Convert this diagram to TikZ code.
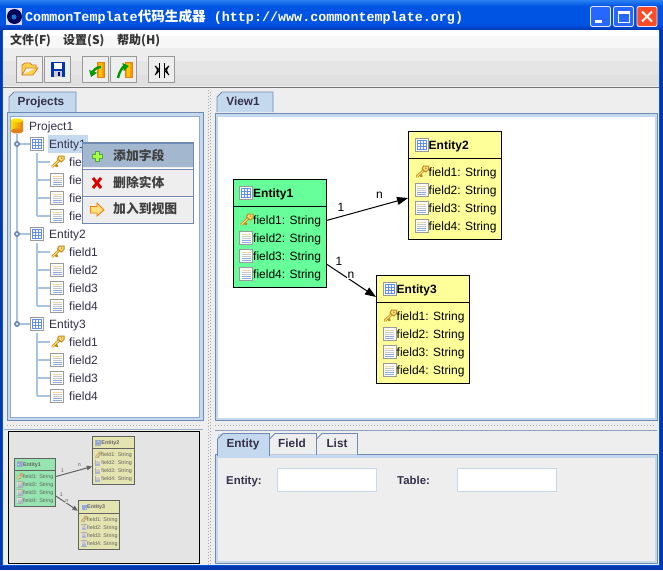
\documentclass[tikz,border=0pt]{standalone}
\usepackage{fontspec}
\setmainfont{Liberation Sans}
\newfontfamily\cjk{Noto Sans CJK SC}
\newfontfamily\titlemono{Liberation Mono}
\usetikzlibrary{arrows.meta}
\definecolor{xpblue}{HTML}{0054E3}
\definecolor{xpdark}{HTML}{0038B0}
\definecolor{xplight}{HTML}{2A80F0}
\definecolor{panelbg}{HTML}{EEEEEE}
\definecolor{bluebd}{HTML}{6F8AB3}
\definecolor{blueband}{HTML}{C5D9EE}
\definecolor{treeline}{HTML}{A8C4E0}
\definecolor{textdk}{HTML}{33304A}
\definecolor{popsel}{HTML}{A3B8CF}
\definecolor{entgreen}{HTML}{66FF99}
\definecolor{entyellow}{HTML}{FFFF99}
\definecolor{keyline}{HTML}{C08A18}
\definecolor{keyfill}{HTML}{FFE080}
\definecolor{fieldor}{HTML}{F3D49A}
\definecolor{fieldgr}{HTML}{C8C8C8}
\definecolor{fieldbl}{HTML}{8FA8E0}
\definecolor{gridbl}{HTML}{5F8FE8}
\definecolor{iconbd}{HTML}{9A9A9A}
\tikzset{
  x=1pt,y=-1pt,
  txt/.style={inner sep=0,anchor=base west,font=\fontsize{12}{14}\selectfont,text=textdk},
  lbltxt/.style={inner sep=0,anchor=base west,font=\fontsize{11.4}{14}\selectfont\bfseries,text=textdk},
  tabtxt/.style={inner sep=0,anchor=base,font=\fontsize{11.8}{14}\selectfont\bfseries,text=textdk},
  menutxt/.style={inner sep=0,anchor=west,font=\fontsize{12}{14}\selectfont\cjk\bfseries,text=black!80},
  poptxt/.style={inner sep=0,anchor=west,font=\fontsize{12.8}{14}\selectfont\cjk\bfseries,text=black!75},
  tabshape/.style={draw=bluebd,line width=.9pt},
  btnbox/.style={draw=black!40,fill=panelbg,line width=1pt},
  inputbox/.style={draw=blueband,fill=white,line width=1pt},
  dots/.style={draw=black!35,line width=1pt,dash pattern=on 1pt off 2pt},
  winbtn/.style={rounded corners=2pt,draw=white!90!blue,line width=.9pt},
  entbox/.style={draw=black,line width=.9pt,inner sep=0,minimum width=93pt,minimum height=108pt},
  enttitle/.style={inner sep=0,anchor=base west,font=\fontsize{12}{14}\selectfont\bfseries,text=black},
  entfield/.style={inner sep=0,anchor=base west,font=\fontsize{12}{14}\selectfont,text=black},
  connlab/.style={inner sep=.6pt,font=\fontsize{12}{14}\selectfont,text=black},
  relarrow/.style={draw=black,line width=1pt,-{Triangle[length=\arrlen,width=\arrwid]}},
}
\newcommand\arrlen{11pt}
\newcommand\arrwid{8pt}
% icons: #1,#2 = top left
\newcommand\icotable[2]{\begin{scope}[shift={(#1,#2)}]
  \fill[iconbd] (0,0) rectangle (14,14);
  \fill[white] (1,1) rectangle (13,13);
  \draw[gridbl,line width=.8pt] (2.5,2.5) rectangle (11.5,11.5)
    (5.5,2.5)--(5.5,11.5) (8.5,2.5)--(8.5,11.5) (2.5,5.5)--(11.5,5.5) (2.5,8.5)--(11.5,8.5);
\end{scope}}
\newcommand\icofield[2]{\begin{scope}[shift={(#1,#2)}]
  \fill[iconbd] (0,0) rectangle (14,14);
  \fill[white] (1,1) rectangle (13,13);
  \draw[fieldor,line width=.8pt] (2.5,3.5)--(11.5,3.5);
  \draw[fieldgr,line width=.8pt] (2.5,5.5)--(11.5,5.5) (2.5,7.5)--(11.5,7.5);
  \draw[fieldbl,line width=.8pt] (2.5,9.5)--(11.5,9.5) (2.5,11.5)--(11.5,11.5);
\end{scope}}
\newcommand\icokey[2]{\begin{scope}[shift={(#1,#2)}]
  \draw[keyline,line width=2.6pt,line cap=round] (1.5,11.5)--(8,5.5) (4,9.5)--(6,11);
  \draw[keyfill,line width=1.1pt,line cap=round] (1.5,11.5)--(8,5.5);
  \draw[keyline,fill=keyfill,line width=1pt] (8,1) -- (13,1) -- (13,4.5) -- (10.5,7) -- (6.5,4) -- cycle;
  \fill[keyline] (10.4,3.2) circle (.9);
\end{scope}}
% entity: #1 name, #2 x, #3 y, #4 fill, #5 title
\newcommand\entity[5]{%
  \node[entbox,fill=#4] (#1) at (#2+46.5,#3+54) {};
  \draw[black,line width=.9pt] (#2,#3+27) -- (#2+93,#3+27);
  \icotable{#2+6}{#3+7}
  \node[enttitle] (#1-t) at (#2+20,#3+18) {#5};
  \icokey{#2+7}{#3+34}
  \node[entfield] (#1-f1) at (#2+20,#3+45) {field1: String};
  \icofield{#2+6}{#3+52}
  \node[entfield] (#1-f2) at (#2+20,#3+63) {field2: String};
  \icofield{#2+6}{#3+70}
  \node[entfield] (#1-f3) at (#2+20,#3+81) {field3: String};
  \icofield{#2+6}{#3+88}
  \node[entfield] (#1-f4) at (#2+20,#3+99) {field4: String};
}
% whole diagram: #1 prefix
\newcommand\erdiagram[1]{%
  \entity{#1a}{233}{179}{entgreen}{Entity1}
  \entity{#1b}{408.5}{131}{entyellow}{Entity2}
  \entity{#1c}{376.5}{275}{entyellow}{Entity3}
  \draw[relarrow] ([yshift=12.5pt]#1a.east) -- ([yshift=-13pt]#1b.west);
  \draw[relarrow] ([yshift=-31pt]#1a.east) -- ([yshift=32pt]#1c.west);
  \node[connlab] (#1l1) at (341,207) {1};
  \node[connlab] (#1l2) at (379.5,195) {n};
  \node[connlab] (#1l3) at (339,261) {1};
  \node[connlab,fill=white] (#1l4) at (351,275) {n};
}
% tree rows
\newcommand\treefields[2]{% #1 first-row y (Entity), #2 prefix
  \draw[treeline,line width=1.1pt] (37,#1+9)--(37,#1+72)
    (37,#1+18)--(50,#1+18) (37,#1+36)--(50,#1+36) (37,#1+54)--(50,#1+54) (37,#1+72)--(50,#1+72);
  \draw[treeline,line width=1.1pt] (17,#1)--(30,#1);
  \fill[bluebd] (17,#1) circle (3); \fill[white] (17,#1) circle (1.1);
  \icotable{30}{#1-7}
  \icokey{51}{#1+11}
  \node[txt] (#2f1) at (69,#1+22) {field1};
  \icofield{50}{#1+29}
  \node[txt] (#2f2) at (69,#1+40) {field2};
  \icofield{50}{#1+47}
  \node[txt] (#2f3) at (69,#1+58) {field3};
  \icofield{50}{#1+65}
  \node[txt] (#2f4) at (69,#1+76) {field4};
}
\begin{document}
\begin{tikzpicture}
\path[use as bounding box] (0,0) rectangle (663,570);
% window
\fill[xpblue] (0,0) rectangle (663,570);
\shade[top color=xplight,bottom color=xpblue] (0,0) rectangle (663,6);
\shade[top color=xpblue,bottom color=xpdark] (0,24) rectangle (663,30);
\fill[xpdark] (0,566) rectangle (663,570);
\fill[xpdark] (660,30) rectangle (663,570);
\fill[xpdark] (0,30) rectangle (2,570);
\fill[panelbg] (3,30) rectangle (659,565);
% app icon + title
\fill[blue!15] (6,8) rectangle (22,25);
\fill[black!20!blue!45!black] (14.5,16.5) circle (7.5);
\fill[cyan!60!blue] (14,17) circle (2.5);
\node[inner sep=0,anchor=west,text=white] (wintitle) at (25,17)
  {\fontsize{13.4}{15}\selectfont\titlemono\bfseries CommonTemplate{\cjk\fontsize{13.6}{15}\selectfont 代码生成器} (http://www.commontemplate.org)};
% window buttons
\draw[winbtn,fill=blue!70!cyan!85] (590.5,6.5) rectangle (610.5,26.5);
\fill[white] (595,19.5) rectangle (602,22.5);
\draw[winbtn,fill=blue!70!cyan!85] (613.5,6.5) rectangle (633.5,26.5);
\draw[white,line width=1pt] (618,11.5) rectangle (629,22.5);
\fill[white] (618,11) rectangle (629,13.5);
\draw[winbtn,fill=red!65!orange!85] (637,6.5) rectangle (657,26.5);
\draw[white,line width=2pt] (642,11.5)--(652,21.5) (652,11.5)--(642,21.5);
% menu & toolbar bands
\fill[white] (3,30) rectangle (659,36);
\fill[black!3] (3,36) rectangle (659,48);
\fill[black!7] (3,48) rectangle (659,61);
\fill[black!10] (3,61) rectangle (659,75);
\fill[black!12] (3,75) rectangle (659,86);
\fill[black!55] (3,86.5) rectangle (659,88);
\node[menutxt] (m1) at (10,41) {文件(F)};
\node[menutxt] (m2) at (63,41) {设置(S)};
\node[menutxt] (m3) at (117,41) {帮助(H)};
% toolbar buttons
\foreach \bx in {16.5,44.5,82.5,110.5,148.5}{\draw[btnbox] (\bx,56.5) rectangle ++(26,26);}
% open
\draw[brown!70!orange,fill=yellow!55!orange!70,line width=.8pt] (22,75)--(22,65)--(25,63)--(30,63)--(32,65)--(36,65)--(36,68)--(26,68)--(22,75)--(33,75)--(38,68)--(36,68);
% save
\fill[blue!70!cyan!70!black] (51,62) rectangle (65,77);
\fill[white] (54,63) rectangle (62,69);
\fill[black!20] (54,71) rectangle (62,77);
\fill[blue!55!black] (58,72) rectangle (60,76);
% import / export
\foreach \bx in {90,118}{
  \fill[orange!80!yellow] (\bx+7,62) rectangle (\bx+14,77);
  \fill[yellow!60!orange] (\bx+9,62) rectangle (\bx+12,77);
  \draw[orange!60!brown,line width=.6pt] (\bx+7,62)--(\bx+7,77)--(\bx+14,77)--(\bx+14,62)--cycle;
}
\draw[green!60!black,line width=2.4pt,-{Triangle[length=6pt,width=8pt]}] (101,67) to[out=180,in=70] (91,77);
\draw[green!60!black,line width=2.4pt,-{Triangle[length=6pt,width=8pt]}] (118,78) to[out=80,in=190] (129,66);
% butterfly
\draw[black,line width=1.6pt] (159.5,63)--(159.5,78) (164.5,63)--(164.5,78);
\fill[black] (155,66)--(159,70)--(155,75)--(157,70)--cycle (169,66)--(165,70)--(169,75)--(167,70)--cycle;
\draw[black,line width=1pt] (155,66)--(159,69.5) (155,75)--(159,71) (169,66)--(165,69.5) (169,75)--(165,71);
% vertical splitter
\draw[dots] (208,90)--(208,565);
\draw[dots] (210,91.5)--(210,565);
% left top panel
\draw[tabshape,fill=blueband] (9,112)--(9,97)--(14,92)--(76,92)--(76,112);
\node[tabtxt] (tabprojects) at (41,105) {Projects};
\draw[bluebd,fill=blueband,line width=1pt] (7,112.5) rectangle (203,420);
\fill[white] (10.5,116.5) rectangle (199,417);
\draw[bluebd!60!blueband,line width=.7pt] (10.5,116.5) rectangle (199,417);
% tree
\draw[treeline,line width=1.1pt] (17,134)--(17,324);
\shade[left color=yellow!75!orange,right color=orange!55!brown] (11,121) rectangle (23,131);
\fill[orange!55!brown] (17,131) ellipse (6 and 2.5);
\fill[yellow!85!orange] (17,120.5) ellipse (6 and 2);
\node[txt] (project) at (29,130) {Project1};
\fill[blueband] (48,135) rectangle (88,153);
\node[txt] (entity1) at (49,148) {Entity1};
\treefields{144}{pa}
\node[txt] (entity2) at (49,238) {Entity2};
\treefields{234}{pb}
\node[txt] (entity3) at (49,328) {Entity3};
\treefields{324}{pc}
% popup menu
\draw[bluebd,fill=panelbg,line width=1pt] (82.5,142.5) rectangle (193,223.5);
\fill[popsel] (83,144) rectangle (192.5,167);
\draw[bluebd,line width=1pt] (83,143.5)--(192.5,143.5) (83,169.5)--(192.5,169.5) (83,196.5)--(192.5,196.5);
\draw[white,line width=1pt] (83,168.5)--(192.5,168.5) (83,197.5)--(192.5,197.5);
\draw[green!50!black!70,fill=green!45!yellow!75,line width=.7pt] (95,151)--(99,151)--(99,154)--(102,154)--(102,158)--(99,158)--(99,161)--(95,161)--(95,158)--(92,158)--(92,154)--(95,154)--cycle;
\node[poptxt] (pop1) at (113,156) {添加字段};
\draw[red!85!black,line width=3pt] (93,178)--(101,188) (101,178)--(93,188);
\node[poptxt] (pop2) at (113,183) {删除实体};
\draw[orange!70!brown,fill=yellow!60!orange!50,line width=.9pt] (90.5,206.5)--(97,206.5)--(97,203)--(104,210)--(97,216)--(97,213)--(90.5,213)--cycle;
\node[poptxt] (pop3) at (113,209) {加入到视图};
% left splitter + thumbnail
\draw[dots] (7,425.5)--(200,425.5);
\draw[bluebd!70,line width=.8pt] (4,429)--(203,429);
\fill[white] (8,431.5) rectangle (199,563);
\begin{scope}[shift={(14,458)},scale=.447,transform shape,shift={(-233,-179)}]
  \renewcommand\arrlen{5.5pt}
  \renewcommand\arrwid{4.5pt}
  \erdiagram{th}
\end{scope}
\fill[black!21.5,opacity=.49] (8,431.5) rectangle (199,563);
\draw[black,line width=1pt] (8,431.5) rectangle (199,563);
% right top panel
\draw[tabshape,fill=blueband] (217,112)--(217,97)--(222,92)--(273,92)--(273,112);
\node[tabtxt] (tabview) at (243,105) {View1};
\draw[bluebd,fill=blueband,line width=1pt] (215,113) rectangle (657,420);
\fill[white] (218,117) rectangle (654.5,417.5);
\erdiagram{er}
% right splitter
\draw[dots] (215,425.7)--(655,425.7);
\draw[bluebd!80,line width=1pt] (215,430.5)--(657,430.5);
% bottom tabs
\draw[bluebd,fill=blueband,line width=1pt] (215,454.5) rectangle (657,563);
\fill[panelbg] (218,458) rectangle (655,561);
\draw[tabshape,fill=panelbg] (269.5,454.5)--(269.5,439)--(275,433.5)--(316.5,433.5)--(316.5,454.5);
\draw[tabshape,fill=panelbg] (316.5,454.5)--(316.5,439)--(322,433.5)--(357.5,433.5)--(357.5,454.5);
\fill[blueband] (218,433.5) rectangle (269,458);
\draw[tabshape,fill=blueband] (217.5,456)--(217.5,439)--(223,433.5)--(269.5,433.5)--(269.5,456);
\fill[blueband] (218,453) rectangle (269,458);
\node[tabtxt] (tabentity) at (243,447) {Entity};
\node[tabtxt] (tabfield) at (292,447) {Field};
\node[tabtxt] (tablist) at (337,447) {List};
\node[lbltxt] (lblentity) at (226,484) {Entity:};
\node[lbltxt] (lbltable) at (397,484) {Table:};
\node[inputbox,minimum width=99pt,minimum height=23pt,inner sep=0] (inpentity) at (327,480) {};
\node[inputbox,minimum width=99pt,minimum height=23pt,inner sep=0] (inptable) at (507,480) {};
\end{tikzpicture}
\end{document}
